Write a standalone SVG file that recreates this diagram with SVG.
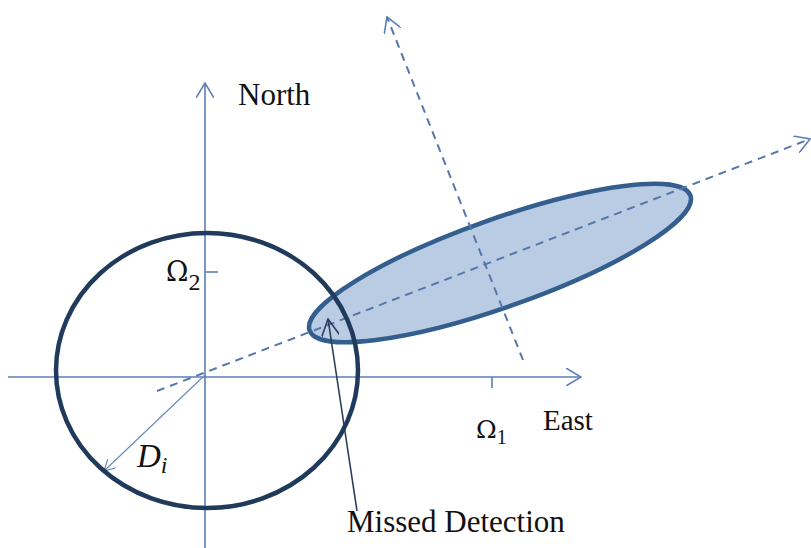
<svg xmlns="http://www.w3.org/2000/svg" width="811" height="548" viewBox="0 0 811 548">
<style>
.axis{stroke:#5b80b8;stroke-width:1.6;fill:none}
.dash{stroke:#5577aa;stroke-width:2;fill:none;stroke-dasharray:8 6}
.thin{stroke:#6688bb;stroke-width:1.1;fill:none}
.md{stroke:#2b3f5c;stroke-width:1.6;fill:none}
.lbl{font-family:"Liberation Serif","Times New Roman",serif;fill:#111}
.math{font-family:"Liberation Serif","DejaVu Serif",serif;fill:#111}
.om{font-family:"DejaVu Serif",serif;fill:#111}
</style>
<defs>
<marker id="aB" viewBox="0 0 16 18" refX="15" refY="9" markerWidth="16" markerHeight="18" markerUnits="userSpaceOnUse" orient="auto">
<path d="M0,0 L15,9 L0,18" fill="none" stroke="#5b80b8" stroke-width="1.6"/>
</marker>
<marker id="aS" viewBox="0 0 12 12" refX="11" refY="6" markerWidth="12" markerHeight="12" markerUnits="userSpaceOnUse" orient="auto">
<path d="M0,0 L11,6 L0,12" fill="none" stroke="#6688bb" stroke-width="1.2"/>
</marker>
<marker id="aD" viewBox="0 0 18 18" refX="17" refY="9" markerWidth="18" markerHeight="18" markerUnits="userSpaceOnUse" orient="auto">
<path d="M0,0 L17,9 L0,18" fill="none" stroke="#2b3f5c" stroke-width="1.6"/>
</marker>
</defs>
<g id="ellipse-node">
<ellipse cx="500" cy="263" rx="202" ry="44" transform="rotate(-19.5 500 263)" fill="#b9cce4" stroke="#335e8e" stroke-width="4.5"/>
</g>
<g id="connectors">
<line class="axis" x1="8" y1="377" x2="581" y2="377" marker-end="url(#aB)"/>
<line class="axis" x1="205" y1="548" x2="205" y2="83" marker-end="url(#aB)"/>
<line class="axis" x1="492" y1="377" x2="492" y2="388"/>
<line class="axis" x1="205" y1="272" x2="218" y2="272"/>
<line class="dash" x1="157" y1="391" x2="810" y2="139" marker-end="url(#aB)"/>
<line class="dash" x1="523" y1="360" x2="387" y2="17" marker-end="url(#aB)"/>
<line class="thin" x1="205" y1="375" x2="104" y2="471" marker-end="url(#aS)"/>
<line class="md" x1="357" y1="511" x2="328" y2="319" marker-end="url(#aD)"/>
</g>
<g id="circle-node">
<ellipse cx="207" cy="370.5" rx="151" ry="137.5" fill="none" stroke="#1f3a5a" stroke-width="4.5"/>
</g>
<g id="label-north"><text class="lbl" x="238" y="105" font-size="31">North</text></g>
<g id="label-east"><text class="lbl" x="543" y="430" font-size="29">East</text></g>
<g id="label-missed"><text class="lbl" x="347" y="532" font-size="31">Missed Detection</text></g>
<g id="label-omega2"><text class="om" x="166" y="281" font-size="27">&#937;<tspan class="math" font-size="24" dy="9">2</tspan></text></g>
<g id="label-omega1"><text class="om" x="476" y="438" font-size="25">&#937;<tspan class="math" font-size="20" dy="6">1</tspan></text></g>
<g id="label-di"><text class="math" x="137" y="467" font-size="33" font-style="italic">D<tspan font-size="24" dy="6">i</tspan></text></g>
</svg>
